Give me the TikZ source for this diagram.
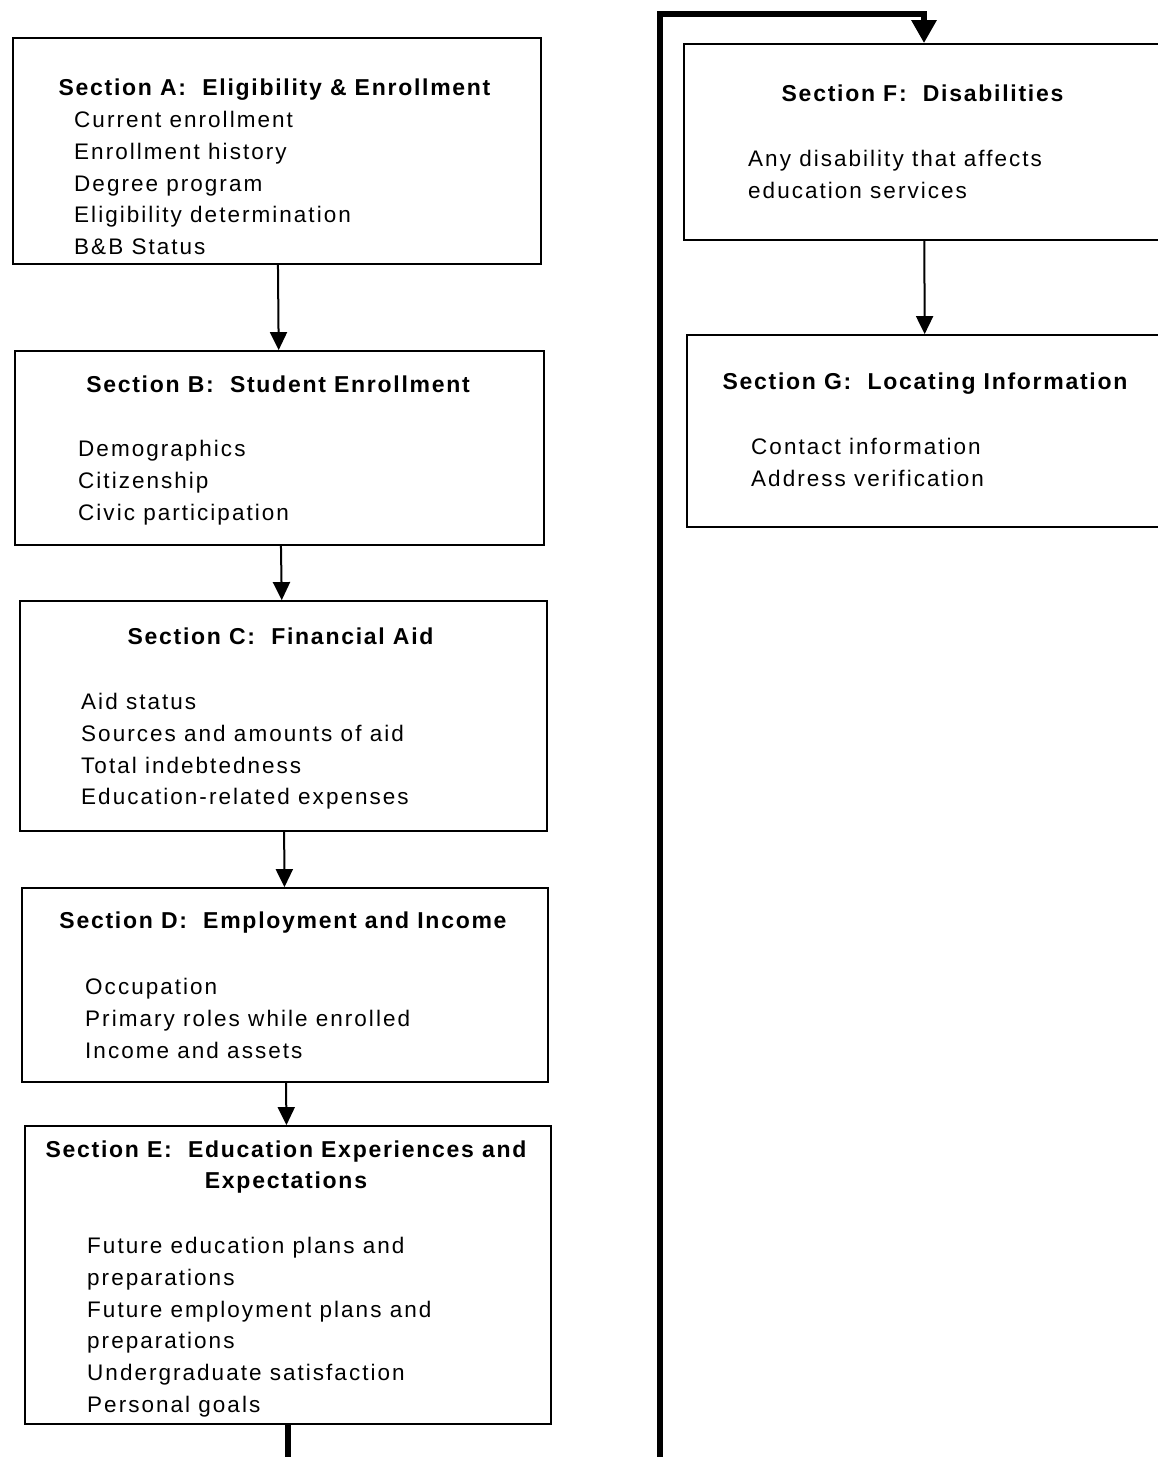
\documentclass[tikz,border=0pt]{standalone}
\usepackage{fontspec}
\setmainfont{Liberation Sans}[LetterSpace=7.5]
\usetikzlibrary{arrows.meta}

\begin{document}
\begin{tikzpicture}[
		x=1pt, y=-1pt,
		box/.style={rectangle, draw=black, line width=1.8pt, inner sep=0pt},
		head/.style={anchor=north, inner sep=0pt, align=center, font=\fontsize{23}{31}\selectfont\bfseries},
		items/.style={anchor=north west, inner sep=0pt, align=left, font=\fontsize{22.5}{31.8}\selectfont\addfontfeature{LetterSpace=9}},
		arr/.style={-{Triangle[length=18pt, width=17pt]}, line width=2pt},
		backline/.style={-{Triangle[length=23pt, width=24pt]}, line width=6pt}
		]
		\useasboundingbox (0,0) rectangle (1158,1457);
		\clip (0,0) rectangle (1158,1457);
		
		% left column
		\node[box, minimum width=528pt, minimum height=226pt] (secA) at (277,151) {};
		\node[box, minimum width=529pt, minimum height=194pt] (secB) at (279.5,448) {};
		\node[box, minimum width=527pt, minimum height=230pt] (secC) at (283.5,716) {};
		\node[box, minimum width=526pt, minimum height=194pt] (secD) at (285,985) {};
		\node[box, minimum width=526pt, minimum height=298pt] (secE) at (288,1275) {};
		% right column
		\node[box, minimum width=480pt, minimum height=196pt] (secF) at (924,142) {};
		\node[box, minimum width=476pt, minimum height=192pt] (secG) at (925,431) {};
		
		\node[head] (headA) at (274.5,79) {Section A:~ Eligibility \& Enrollment};
		\node[items] (itemsA) at (74,111) {Current enrollment\\Enrollment history\\Degree program\\Eligibility determination\\B\&B Status};
		
		\node[head] (headB) at (278,376) {Section B:~ Student Enrollment};
		\node[items] (itemsB) at (78,440) {Demographics\\Citizenship\\Civic participation};
		
		\node[head] (headC) at (280.5,628) {Section C:~ Financial Aid};
		\node[items] (itemsC) at (81,693) {Aid status\\Sources and amounts of aid\\Total indebtedness\\Education-related expenses};
		
		\node[head] (headD) at (283,912) {Section D:~ Employment and Income};
		\node[items] (itemsD) at (85,978) {Occupation\\Primary roles while enrolled\\Income and assets};
		
		\node[head] (headE) at (286,1141) {Section E:~ Education Experiences and\\Expectations};
		\node[items] (itemsE) at (87,1237) {Future education plans and\\preparations\\Future employment plans and\\preparations\\Undergraduate satisfaction\\Personal goals};
		
		\node[head] (headF) at (922.5,85) {Section F:~ Disabilities};
		\node[items] (itemsF) at (748,150) {Any disability that affects\\education services};
		
		\node[head] (headG) at (925,373) {Section G:~ Locating Information};
		\node[items] (itemsG) at (751,438) {Contact information\\Address verification};
		
		\coordinate (loopB) at (660,1460);
		\coordinate (loopT) at (660,14);
		
		\draw[arr] (secA) -- (secB);
		\draw[arr] (secB) -- (secC);
		\draw[arr] (secC) -- (secD);
		\draw[arr] (secD) -- (secE);
		\draw[backline] (secE) |- (loopB) -- (loopT) -| (secF);
		\draw[arr] (secF) -- (secG);
	\end{tikzpicture}
\end{document}
